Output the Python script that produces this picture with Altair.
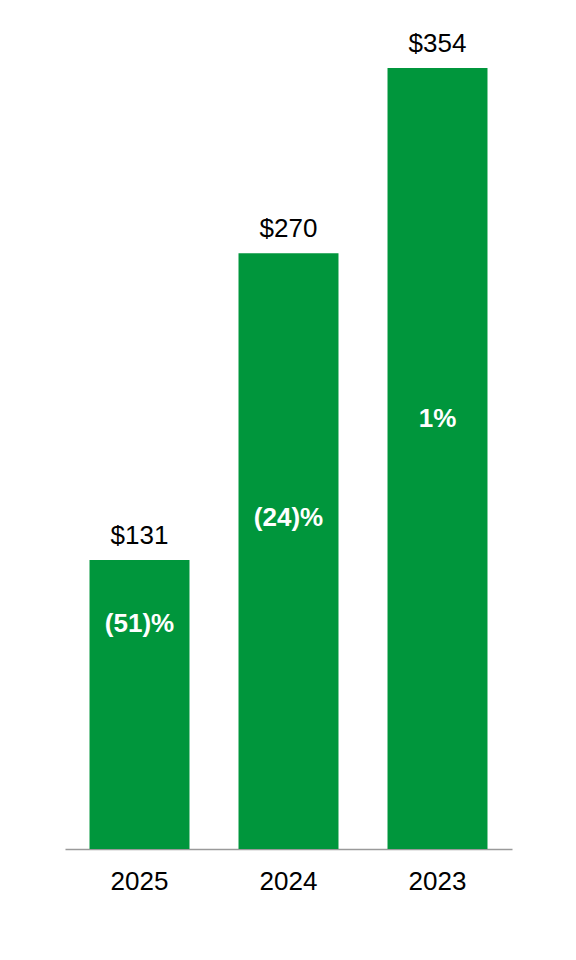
import altair as alt
import pandas as pd

years = ["2025", "2024", "2023"]
values = [131, 270, 354]
value_labels = ["$131", "$270", "$354"]
pct_labels = ["(51)%", "(24)%", "1%"]
pct_label_y = [102, 150, 195]

df = pd.DataFrame({
    "year": years,
    "value": values,
    "vlabel": value_labels,
    "plabel": pct_labels,
    "py": pct_label_y,
})

GREEN = "#00963C"
FONT = "Liberation Sans"

x = alt.X("year:N", sort=years,
          scale=alt.Scale(paddingInner=0.329, paddingOuter=0.1645),
          axis=alt.Axis(title=None, labelAngle=0, ticks=False, domainColor="#9a9a9a",
                        domainWidth=1.5, labelFont=FONT, labelFontSize=26,
                        labelColor="#000000", labelPadding=19, grid=False))
y_scale = alt.Scale(domain=[0, 354], nice=False, zero=True)

bars = alt.Chart(df).mark_bar(color=GREEN).encode(
    x=x,
    y=alt.Y("value:Q", scale=y_scale, axis=None),
)

vtext = alt.Chart(df).mark_text(font=FONT, fontSize=26, color="#000000",
                                baseline="bottom", dy=-11).encode(
    x=alt.X("year:N", sort=years),
    y=alt.Y("value:Q", scale=y_scale),
    text="vlabel:N",
)

ptext = alt.Chart(df).mark_text(font=FONT, fontSize=26, fontWeight="bold",
                                color="#ffffff", baseline="middle").encode(
    x=alt.X("year:N", sort=years),
    y=alt.Y("py:Q", scale=y_scale),
    text="plabel:N",
)

chart = alt.layer(bars, vtext, ptext).properties(
    width=447, height=781,
    autosize=alt.AutoSizeParams(type="none"),
    padding={"left": 57, "top": 60, "right": 56, "bottom": 90},
).configure(background="#ffffff").configure_view(stroke=None)

chart.save("out.html", embed_options={"renderer": "svg", "actions": False})
